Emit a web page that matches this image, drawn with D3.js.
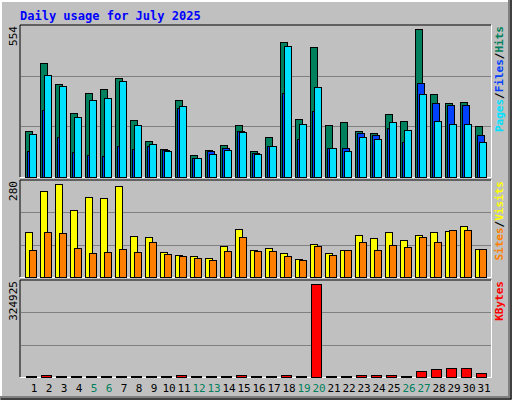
<!DOCTYPE html>
<html>
<head>
<meta charset="utf-8">
<script src="https://cdn.jsdelivr.net/npm/d3@7"></script>
<style>
  body { margin: 0; background: #fff; }
  text { font-family: "DejaVu Sans Mono", monospace; }
</style>
</head>
<body>
<svg id="chart" width="512" height="400"></svg>
<script>
// data
const days = d3.range(1, 32);
const weekends = [5, 6, 12, 13, 19, 20, 26, 27];
const hits  = [171,426,348,238,315,330,370,212,134,105,286,79,101,119,193,94,149,507,215,485,193,204,171,164,234,208,554,308,275,278,190];
const files = [160,382,341,223,286,293,359,193,123,94,263,68,86,101,167,86,116,492,197,337,108,94,149,142,204,175,308,208,197,197,130];
const pages = [95,249,150,91,80,76,113,102,113,98,257,71,94,108,171,90,116,313,142,245,108,108,164,156,182,130,352,275,267,267,156];
const visits = [134,259,280,201,240,237,274,122,119,74,65,62,56,92,143,80,86,71,53,98,71,80,125,116,135,110,127,135,138,153,83];
const sites  = [80,134,131,86,71,74,83,74,104,68,62,56,49,77,119,77,77,62,49,92,65,80,104,80,95,89,119,104,140,140,83];
const kbytes = [1500,6000,1500,1500,1500,1500,1500,1500,1500,1500,5000,1500,1500,1500,5000,1500,1500,5000,1500,324925,1500,1500,5000,5000,5000,1500,19000,26000,30000,30000,12000];

const svg = d3.select('#chart');

// outer frame, raised 3d look
svg.append('rect').attr('width', 512).attr('height', 400).attr('fill', '#C0C0C0');
svg.append('path').attr('d', 'M0,400V0H512').attr('stroke', '#fff').attr('stroke-width', 4).attr('fill', 'none');
svg.append('path').attr('d', 'M0,398H510V0').attr('stroke', '#808080').attr('stroke-width', 4).attr('fill', 'none');
svg.append('path').attr('d', 'M1,399H511V0').attr('stroke', '#000').attr('stroke-width', 1).attr('fill', 'none');

svg.append('text').attr('x', 20).attr('y', 20)
  .attr('font-size', 12).attr('font-weight', 'bold').attr('fill', '#0000FF')
  .text('Daily usage for July 2025');

const x = d3.scaleLinear().domain([1, 31]).range([25, 475]);

// panels: top, bottom, max, gridline positions
const panels = [
  { y0: 25, y1: 177, top: 29, max: 554 },
  { y0: 180, y1: 277, top: 184, max: 280 },
  { y0: 280, y1: 377, top: 284, max: 324925 },
];

panels.forEach((p) => {
  svg.append('path').attr('d', `M20,${p.y1}V${p.y0}H491`).attr('stroke', '#000').attr('fill', 'none');
  svg.append('path').attr('d', `M20,${p.y1 + 0.5}H491.5V${p.y0}`).attr('stroke', '#fff').attr('fill', 'none');
  const h = p.y1 - p.y0;
  [1, 2].forEach((k) => {
    svg.append('line').attr('x1', 21).attr('x2', 491)
      .attr('y1', p.y0 + Math.round(h * k / 3) + 0.5).attr('y2', p.y0 + Math.round(h * k / 3) + 0.5)
      .attr('stroke', '#808080');
  });
  p.y = d3.scaleLinear().domain([0, p.max]).range([p.y1 - 0.5, p.top]);
  svg.append('text')
    .attr('transform', `translate(17,${p.y0 + 1}) rotate(-90)`)
    .attr('text-anchor', 'end').attr('font-size', 11).attr('fill', '#000')
    .attr('font-family', 'DejaVu Sans')
    .text(d3.format('d')(p.max));
});

const bars = (vals, y, dx, w, color) => {
  svg.append('g').selectAll('rect').data(vals).enter().append('rect')
    .attr('x', (d, i) => x(days[i]) + dx + 0.5)
    .attr('y', (d) => Math.round(y(d)) + 0.5)
    .attr('width', w)
    .attr('height', (d) => Math.max(1, Math.round(y(0)) - Math.round(y(d))))
    .attr('fill', color).attr('stroke', '#000');
};

bars(hits, panels[0].y, 0, 7, '#00805C');
bars(pages, panels[0].y, 2, 7, '#0040FF');
bars(files, panels[0].y, 4, 7, '#00E0FF');
bars(visits, panels[1].y, 0, 7, '#FFFF00');
bars(sites, panels[1].y, 4, 7, '#FF8000');
bars(kbytes, panels[2].y, 1, 10, '#FF0000');

// right side legends, rotated
const legend = (yEnd, parts) => {
  const t = svg.append('text')
    .attr('transform', `translate(503,${yEnd}) rotate(-90)`)
    .attr('text-anchor', 'end').attr('font-size', 11).attr('font-weight', 'bold');
  parts.forEach(([s, c]) => t.append('tspan').attr('fill', c).text(s));
};
legend(26, [['Pages', '#00E0FF'], ['/', '#000'], ['Files', '#0040FF'], ['/', '#000'], ['Hits', '#00805C']]);
legend(181, [['Sites', '#FF8000'], ['/', '#000'], ['Visits', '#FFFF00']]);
legend(281, [['KBytes', '#FF0000']]);

// day labels
svg.append('g').selectAll('text').data(days).enter().append('text')
  .attr('x', (d) => x(d) + 9)
  .attr('y', 392)
  .attr('text-anchor', 'middle')
  .attr('font-size', 11).attr('font-family', 'DejaVu Sans')
  .attr('fill', (d) => (weekends.includes(d) ? '#00805C' : '#000'))
  .text((d) => d);
</script>
</body>
</html>
